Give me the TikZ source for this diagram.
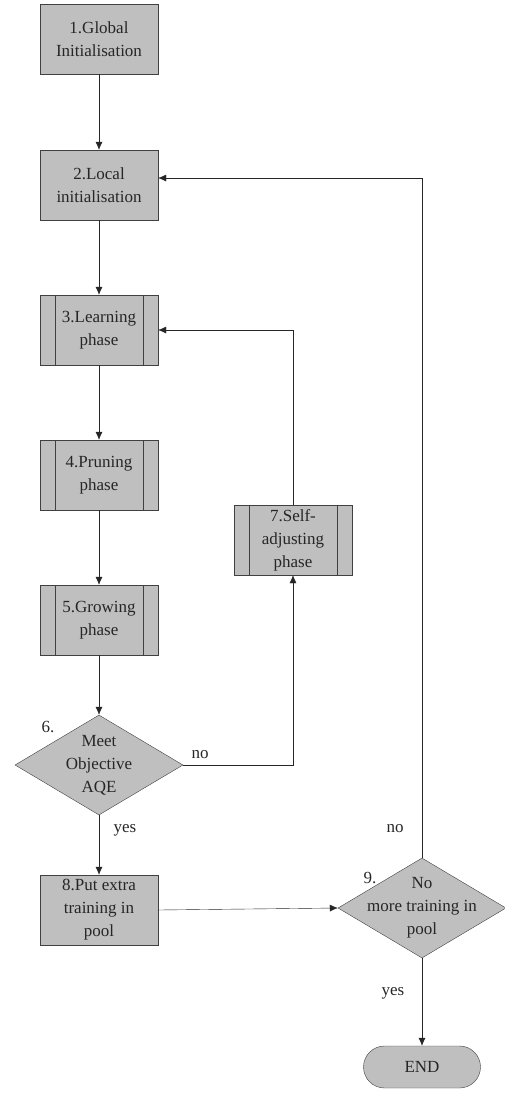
\documentclass[tikz,border=0pt]{standalone}
\usepackage{fontspec}
\setmainfont{Liberation Serif}
\usetikzlibrary{shapes.geometric,arrows.meta}
\tikzset{
	txt/.style={font=\fontsize{17}{23}\selectfont,align=center,inner sep=0pt,text=black!85},
	box/.style={txt,draw=black!75,fill=black!25,minimum width=118pt,minimum height=70pt},
	pbox/.style={box,path picture={
		\draw[black!75] ([xshift=15pt]path picture bounding box.north west) -- ([xshift=15pt]path picture bounding box.south west);
		\draw[black!75] ([xshift=-15pt]path picture bounding box.north east) -- ([xshift=-15pt]path picture bounding box.south east);}},
	dec/.style={diamond,draw=black!75,fill=black!25,minimum width=168pt,minimum height=100pt,inner sep=0pt},
	term/.style={txt,draw=black!75,fill=black!25,rounded corners=21pt,minimum width=117pt,minimum height=42pt},
	arr/.style={draw=black!85,-{Latex[length=8pt,width=7pt]}}
}
\begin{document}
\begin{tikzpicture}[x=1pt,y=-1pt]
	\useasboundingbox (0,0) rectangle (504,1093);
	\node [box] (n1) at (99,39) {1.Global\\Initialisation};
	\node [box] (n2) at (99,185) {2.Local\\initialisation};
	\node [pbox] (n3) at (99,330) {3.Learning\\phase};
	\node [pbox] (n4) at (99,475) {4.Pruning\\phase};
	\node [pbox] (n5) at (99,620) {5.Growing\\phase};
	\node [dec] (n6) at (99,765) {};
	\node [txt] (t6) at (n6) {Meet\\Objective\\AQE};
	\node [pbox] (n7) at (293,540) {7.Self-\\adjusting\\phase};
	\node [box] (n8) at (99,910) {8.Put extra\\training in\\pool};
	\node [dec] (n9) at (422,908) {};
	\node [txt] (t9) at (n9) {No\\more training in\\pool};
	\node [term] (nEnd) at (422,1067) {END};

	\node [txt] (l6) at (48,727) {6.};
	\node [txt] (l9) at (370,878) {9.};
	\node [txt] (no6) at (200,755) {no};
	\node [txt] (yes6) at (125,830) {yes};
	\node [txt] (no9) at (395,829) {no};
	\node [txt] (yes9) at (393,993) {yes};

	\draw [arr] (n1) -- (n2);
	\draw [arr] (n2) -- (n3);
	\draw [arr] (n3) -- (n4);
	\draw [arr] (n4) -- (n5);
	\draw [arr] (n5) -- (n6);
	\draw [arr] (n6) -- (n8);
	\draw [arr] (n6.east) -| (n7.south);
	\draw [arr] (n7.north) |- (n3.east);
	\draw [arr] (n8.east) -- (n9.west);
	\draw [arr] (n9.north) |- ([yshift=7pt]n2.east);
	\draw [arr] (n9) -- (nEnd);
\end{tikzpicture}
\end{document}
